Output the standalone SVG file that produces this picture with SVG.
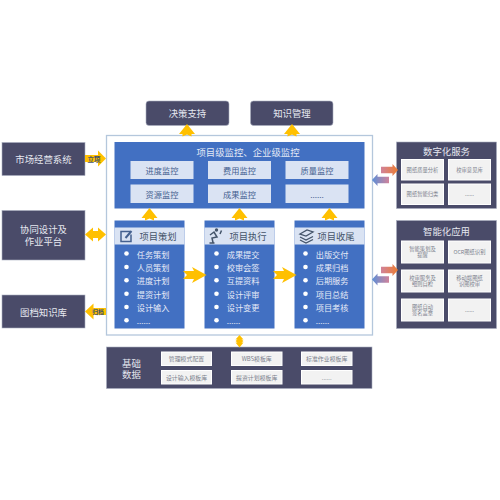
<svg xmlns="http://www.w3.org/2000/svg" width="500" height="500" viewBox="0 0 500 500">
<style>
text{font-family:"Noto Sans CJK SC","Liberation Sans",sans-serif;text-anchor:middle;dominant-baseline:central}
.d{fill:#4a4b69;stroke:#a9aebf;stroke-width:.6}
.b{fill:#4270c2}
.l{fill:#dae3f3}
.w{fill:#f2f2f2;stroke:#fff;stroke-width:1}
.t1{fill:#e6e8f0;font-size:9.400px}
.t2{fill:#e3e9f5;font-size:9.400px}
.t3{fill:#44608f;font-size:8.200px}
.t4{fill:#44546a;font-size:9.300px}
.t5{fill:#7a7f8c;font-size:5.300px}
.t7{fill:#7a7f8c;font-size:5.900px}
.t6{fill:#e6ebf7;font-size:8.200px;text-anchor:start}
.a{fill:#ffc000}
.dot{fill:#fff}
</style>
<defs>
<linearGradient id="gr" x1="0" x2="1"><stop offset="0" stop-color="#d0829a"/><stop offset="1" stop-color="#ed7d31"/></linearGradient>
<linearGradient id="gl" x1="0" x2="1"><stop offset="0" stop-color="#d0829a"/><stop offset="1" stop-color="#5b8fd8"/></linearGradient>
<path id="up" d="M0,-6.500L8,3.500L4.500,3.500L4.500,6L0,4L-4.500,6L-4.500,3.500L-8,3.500Z" class="a"/>
<path id="rt" d="M-12,-4L-1,-4L-3,-8L11.500,0L-3,8L-1,4L-12,4L-8,0Z" class="a"/>
<path id="gra" d="M-8.500,-3.200L3,-3.200L3,-6L8.500,0L3,6L3,3.200L-8.500,3.200Z"/>
</defs>
<g id="market"><rect class="d" x="2" y="142.500" width="83" height="33"/><text class="t1" x="43.500" y="158.500">市场经营系统</text></g>
<g id="collab"><rect class="d" x="2" y="210.500" width="83" height="49.500"/><text class="t1" y="229.300"><tspan x="43.500">协同设计及</tspan><tspan x="43.500" dy="11.500">作业平台</tspan></text></g>
<g id="archive"><rect class="d" x="2" y="295" width="83" height="33"/><text class="t1" x="43.500" y="311.500">图档知识库</text></g>
<g id="decision"><rect class="d" x="146" y="101" width="83" height="24.500" rx="3"/><text class="t1" x="187.500" y="113">决策支持</text></g>
<g id="knowledge"><rect class="d" x="250.500" y="101" width="82.500" height="24.500" rx="3"/><text class="t1" x="292" y="113">知识管理</text></g>
<g id="platform"><rect x="106.500" y="135.500" width="266" height="199.500" fill="#fff" stroke="#b4c7dc" stroke-width="1.300"/></g>
<g id="monitor">
<rect class="b" x="114.500" y="142" width="250" height="66.500"/>
<text class="t2" x="248" y="151.500">项目级监控、企业级监控</text>
<rect class="l" x="130.500" y="161" width="63" height="18"/><text class="t3" x="162" y="170">进度监控</text>
<rect class="l" x="208" y="161" width="63" height="18"/><text class="t3" x="239.500" y="170">费用监控</text>
<rect class="l" x="285.500" y="161" width="63" height="18"/><text class="t3" x="317" y="170">质量监控</text>
<rect class="l" x="130.500" y="184.500" width="63" height="18.500"/><text class="t3" x="162" y="194">资源监控</text>
<rect class="l" x="208" y="184.500" width="63" height="18.500"/><text class="t3" x="239.500" y="194">成果监控</text>
<rect class="l" x="285.500" y="184.500" width="63" height="18.500"/><text class="t3" x="317" y="194">......</text>
</g>
<g id="plan">
<rect class="b" x="114.500" y="220.500" width="70" height="108"/>
<rect class="l" x="114.500" y="227.500" width="70" height="17"/>
<path d="M130,231.500h-9v10h10v-7" fill="none" stroke="#44608f" stroke-width="1.500"/><path d="M125.500,238l6,-7" stroke="#44608f" stroke-width="2"/>
<text class="t4" x="158" y="236">项目策划</text>
<g class="dot"><circle cx="126.500" cy="253.500" r="2.300"/><circle cx="126.500" cy="267" r="2.300"/><circle cx="126.500" cy="280.300" r="2.300"/><circle cx="126.500" cy="293.700" r="2.300"/><circle cx="126.500" cy="307" r="2.300"/><circle cx="126.500" cy="320.300" r="2.300"/></g>
<text class="t6" x="136.700" y="253.500">任务策划</text><text class="t6" x="136.700" y="267">人员策划</text><text class="t6" x="136.700" y="280.300">进度计划</text><text class="t6" x="136.700" y="293.700">提资计划</text><text class="t6" x="136.700" y="307">设计输入</text><text class="t6" x="136.700" y="320.300">......</text>
</g>
<g id="execute">
<rect class="b" x="204.500" y="220.500" width="70" height="108"/>
<rect class="l" x="204.500" y="227.500" width="70" height="17"/>
<path d="M210,235l4,-3l3,5l-5,1l1,4.500M209.500,243h5M220,234l1.500,-3.500" fill="none" stroke="#44546a" stroke-width="1.500"/><circle cx="216.500" cy="230" r="1.700" fill="#44546a"/>
<text class="t4" x="248" y="236">项目执行</text>
<g class="dot"><circle cx="216.500" cy="253.500" r="2.300"/><circle cx="216.500" cy="267" r="2.300"/><circle cx="216.500" cy="280.300" r="2.300"/><circle cx="216.500" cy="293.700" r="2.300"/><circle cx="216.500" cy="307" r="2.300"/><circle cx="216.500" cy="320.300" r="2.300"/></g>
<text class="t6" x="226.700" y="253.500">成果提交</text><text class="t6" x="226.700" y="267">校审会签</text><text class="t6" x="226.700" y="280.300">互提资料</text><text class="t6" x="226.700" y="293.700">设计评审</text><text class="t6" x="226.700" y="307">设计变更</text><text class="t6" x="226.700" y="320.300">......</text>
</g>
<g id="close">
<rect class="b" x="294.500" y="220.500" width="70" height="108"/>
<rect class="l" x="294.500" y="227.500" width="70" height="17"/>
<path d="M300,234l7,-4l6,2l-7,4ZM300,237l6,3l7,-3.500M300,240l6,3l7,-3.500" fill="none" stroke="#44546a" stroke-width="1.300"/>
<text class="t4" x="336" y="236">项目收尾</text>
<g class="dot"><circle cx="305.500" cy="253.500" r="2.300"/><circle cx="305.500" cy="267" r="2.300"/><circle cx="305.500" cy="280.300" r="2.300"/><circle cx="305.500" cy="293.700" r="2.300"/><circle cx="305.500" cy="307" r="2.300"/><circle cx="305.500" cy="320.300" r="2.300"/></g>
<text class="t6" x="315.700" y="253.500">出版交付</text><text class="t6" x="315.700" y="267">成果归档</text><text class="t6" x="315.700" y="280.300">后期服务</text><text class="t6" x="315.700" y="293.700">项目总结</text><text class="t6" x="315.700" y="307">项目考核</text><text class="t6" x="315.700" y="320.300">......</text>
</g>
<g id="base">
<rect class="d" x="106.500" y="347" width="265.500" height="41.500"/>
<text class="t1" y="362.700"><tspan x="131.500">基础</tspan><tspan x="131.500" dy="11.500">数据</tspan></text>
<rect class="w" x="161.500" y="352" width="50" height="13.500"/><text class="t7" x="186.500" y="358.800">管理模式配置</text>
<rect class="w" x="231.500" y="352" width="50.500" height="13.500"/><text class="t7" x="256.700" y="358.800">WBS模板库</text>
<rect class="w" x="301.500" y="352" width="50.500" height="13.500"/><text class="t7" x="326.700" y="358.800">标准作业模板库</text>
<rect class="w" x="161.500" y="370.500" width="50" height="13.500"/><text class="t7" x="186.500" y="377.200">设计输入模板库</text>
<rect class="w" x="231.500" y="370.500" width="50.500" height="13.500"/><text class="t7" x="256.700" y="377.200">提资计划模板库</text>
<rect class="w" x="301.500" y="370.500" width="50.500" height="13.500"/><text class="t7" x="326.700" y="377.200">......</text>
</g>
<g id="digital">
<rect class="d" x="396.500" y="142" width="100" height="66.500"/>
<text class="t1" x="446.500" y="150.500">数字化服务</text>
<rect class="w" x="401.500" y="159.500" width="42" height="20.500"/><text class="t5" x="422.500" y="169.800">图纸质量分析</text>
<rect class="w" x="448.500" y="159.500" width="42" height="20.500"/><text class="t5" x="469.500" y="169.800">校审意见库</text>
<rect class="w" x="401.500" y="184" width="42" height="20.500"/><text class="t5" x="422.500" y="194.200">图纸智能归类</text>
<rect class="w" x="448.500" y="184" width="42" height="20.500"/><text class="t5" x="469.500" y="194.200">......</text>
</g>
<g id="smart">
<rect class="d" x="396.500" y="220.500" width="100" height="108"/>
<text class="t1" x="446.500" y="230.500">智能化应用</text>
<rect class="w" x="401.500" y="241" width="42" height="22"/><text class="t5" x="422.500" y="248.500">智能策划及</text><text class="t5" x="422.500" y="255">提醒</text>
<rect class="w" x="448.500" y="241" width="42" height="22"/><text class="t5" x="469.500" y="252">OCR图纸识别</text>
<rect class="w" x="401.500" y="270" width="42" height="22"/><text class="t5" x="422.500" y="277.500">校审服务及</text><text class="t5" x="422.500" y="284">细则自检</text>
<rect class="w" x="448.500" y="270" width="42" height="22"/><text class="t5" x="469.500" y="277.500">移动端图纸</text><text class="t5" x="469.500" y="284">识图校审</text>
<rect class="w" x="401.500" y="299" width="42" height="22"/><text class="t5" x="422.500" y="306.500">图纸自动</text><text class="t5" x="422.500" y="313">签名盖章</text>
<rect class="w" x="448.500" y="299" width="42" height="22"/><text class="t5" x="469.500" y="310">......</text>
</g>
<g id="connectors">
<use href="#up" x="187" y="130.500"/>
<use href="#up" x="292" y="130.500"/>
<use href="#up" x="149.500" y="214.500"/>
<use href="#up" x="239.500" y="214.500"/>
<use href="#up" x="329.500" y="214.500"/>
<use href="#rt" x="195" y="275"/>
<use href="#rt" x="285" y="275"/>
<path class="a" d="M85,155L98,155L98,150.500L106,158.500L98,166.500L98,162L85,162Z"/>
<path class="a" d="M85,234.500L93,227.500L93,231L98,231L98,227.500L106,234.500L98,241.500L98,238L93,238L93,241.500Z"/>
<path class="a" d="M85,311.500L93.500,303.500L93.500,308L106,308L106,315L93.500,315L93.500,319.500Z"/>
<path class="a" d="M239.500,335L243.500,339.500L241.500,339.500L243.500,341L241.500,342.500L243.500,342.500L239.500,347.500L235.500,342.500L237.500,342.500L235.500,341L237.500,339.500L235.500,339.500Z"/>
<use href="#gra" x="389.500" y="170" fill="url(#gr)"/>
<use href="#gra" x="380.500" y="180" fill="url(#gl)" transform="rotate(180 380.500 180)"/>
<use href="#gra" x="389.500" y="270" fill="url(#gr)"/>
<use href="#gra" x="380.500" y="279.500" fill="url(#gl)" transform="rotate(180 380.500 279.500)"/>
<text x="94" y="158.500" style="font-size:6.500px;fill:#44546a;font-weight:700">立项</text>
<text x="98" y="311.500" style="font-size:5.800px;fill:#44546a;font-weight:700">归档</text>
</g>
</svg>
